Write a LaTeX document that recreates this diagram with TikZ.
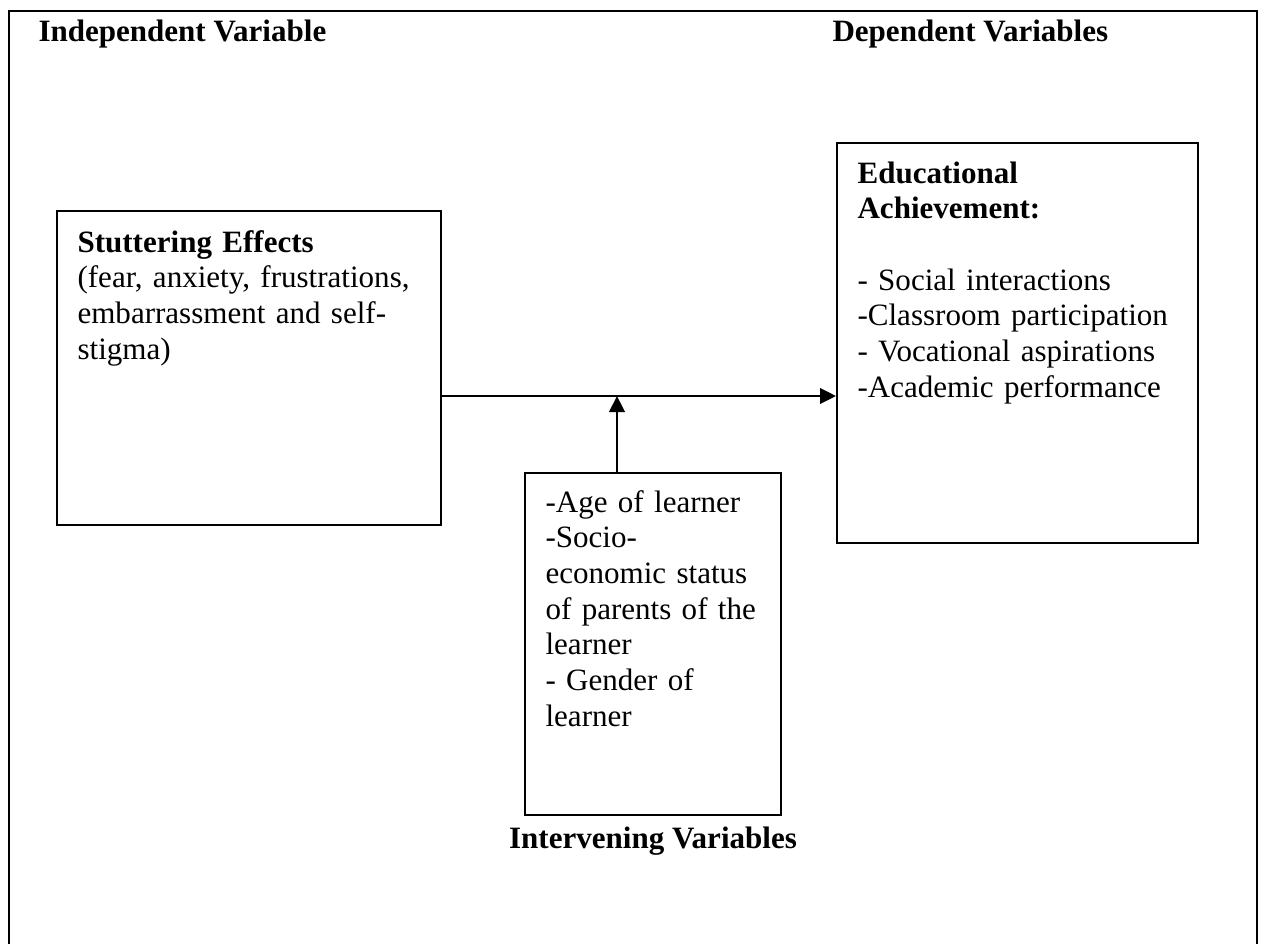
\documentclass[tikz,border=0pt]{standalone}
\usepackage{fontspec}
\setmainfont{Liberation Serif}
\usepackage{tikz}
\usetikzlibrary{positioning, arrows.meta, fit}

\tikzset{
	box/.style={draw, line width=0.75pt, inner sep=0pt},
	txt/.style={font=\fontsize{12pt}{13.8pt}\selectfont, inner sep=0pt, align=left, text width=150pt, anchor=base west},
	head/.style={font=\fontsize{12pt}{13.8pt}\selectfont\bfseries, inner sep=0pt},
	link/.style={line width=0.95pt, -{Triangle[length=6.2pt, width=6pt]}}
}

\begin{document}
\begin{tikzpicture}[x=0.3866pt, y=-0.3866pt]
				\useasboundingbox (0,0) rectangle (1264,943);
				\draw[line width=0.8pt] (9,11) rectangle (1257,980);
				
				\node[head, anchor=base west] (indep) at (38,41) {Independent Variable};
				\node[head, anchor=base west] (dep) at (832,41) {Dependent Variables};
				
				\node[box, fit={(57,211) (441,525)}] (effects) {};
				\node[box, fit={(837,143) (1198,543)}] (achieve) {};
				\node[box, fit={(525,473) (781,815)}] (factors) {};
				
				\node[txt] (effectsText) at ([shift={(21,42)}]effects.north west) {\textbf{Stuttering Effects}\\(fear, anxiety, frustrations,\\embarrassment and self-\\stigma)};
				\node[txt] (achieveText) at ([shift={(21,41)}]achieve.north west) {\textbf{Educational}\\\textbf{Achievement:}\\[13.8pt]- Social interactions\\-Classroom participation\\- Vocational aspirations\\-Academic performance};
				\node[txt] (factorsText) at ([shift={(21,40)}]factors.north west) {-Age of learner\\-Socio-\\economic status\\of parents of the\\learner\\- Gender of\\learner};
				\node[head, anchor=base] (interv) at ([shift={(0,33)}]factors.south) {Intervening Variables};
				
				\coordinate (join) at (617,396);
				\draw[link] (effects.east |- join) -- (achieve.west |- join);
				\draw[link] (join |- factors.north) -- (join);
			\end{tikzpicture}
\end{document}
